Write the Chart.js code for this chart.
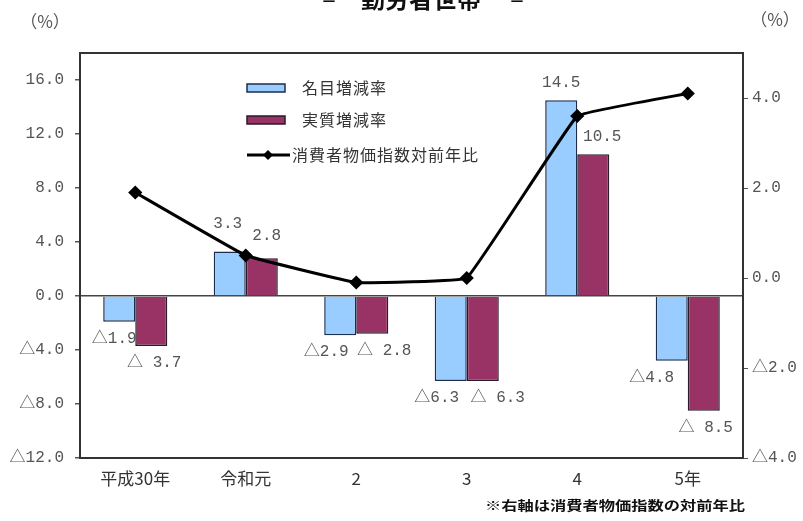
<!DOCTYPE html>
<html><head><meta charset="utf-8">
<script src="https://cdn.jsdelivr.net/npm/chart.js@4/dist/chart.umd.min.js"></script>
<style>html,body{margin:0;padding:0;background:#fff;}#wrap{width:803px;height:521px;position:relative}</style>
</head><body><div id="wrap"><canvas id="c" width="803" height="521"></canvas></div>
<script>
// ---- data ----
const categories = ['平成30年', '令和元', '2', '3', '4', '5年'];
const nominalRate = [-1.9, 3.3, -2.9, -6.3, 14.5, -4.8];
const realRate = [-3.7, 2.8, -2.8, -6.3, 10.5, -8.5];
const cpiRate = [1.9, 0.5, -0.1, 0.0, 3.6, 4.1];
const leftTicks = [-12, -8, -4, 0, 4, 8, 12, 16];
const rightTicks = [-4, -2, 0, 2, 4];
const seriesNames = ['名目増減率', '実質増減率', '消費者物価指数対前年比'];
const titleText = '勤労者世帯';
const noteText = '※右軸は消費者物価指数の対前年比';
const unitText = '（%）';

const fmtVal = (v, spaced) => v < 0 ? '△' + (spaced ? ' ' : '') + Math.abs(v).toFixed(1) : v.toFixed(1);
const MONO = '"Liberation Mono","Noto Sans CJK JP"';
const CJK = '"Noto Sans CJK JP"';

const labelNudge = {
  0: {dx: [-5, -2, -14, -14, 0, -20], dy: [0, -11, 0, 0, 0, 0]},
  1: {dx: [3, 5, 12, 15, 9, 2], dy: [0, -5, 0, 0, 0, 0]}
};

const decor = {
  id: 'decor',
  beforeDatasetsDraw(chart) {
    const {ctx, chartArea: a} = chart;
    ctx.save();
    ctx.strokeStyle = '#333';
    ctx.lineWidth = 2;
    ctx.strokeRect(a.left, a.top, a.right - a.left, a.bottom - a.top);
    ctx.restore();
  },
  afterDatasetsDraw(chart) {
    const ctx = chart.ctx;
    ctx.save();
    ctx.font = '16px ' + MONO;
    ctx.fillStyle = '#555';
    ctx.textAlign = 'center';
    ctx.textBaseline = 'middle';
    [0, 1].forEach(di => {
      const meta = chart.getDatasetMeta(di);
      const vals = chart.data.datasets[di].data;
      const n = labelNudge[di];
      meta.data.forEach((bar, i) => {
        const v = vals[i];
        const y = (v >= 0 ? bar.y - 17 : bar.y + 17) + n.dy[i];
        ctx.fillText(fmtVal(v, di === 1), bar.x + n.dx[i], y);
      });
    });
    ctx.restore();
  },
  afterDraw(chart) {
    const ctx = chart.ctx;
    const ds = chart.data.datasets;
    ctx.save();
    // legend
    ctx.textBaseline = 'middle';
    ctx.textAlign = 'left';
    ctx.font = '16px ' + CJK;
    ctx.fillStyle = '#333';
    try { ctx.letterSpacing = '1px'; } catch (e) {}
    const rows = [88, 120, 155];
    [0, 1].forEach(i => {
      ctx.fillStyle = ds[i].backgroundColor;
      ctx.strokeStyle = ds[i].borderColor;
      ctx.lineWidth = 1.5;
      ctx.fillRect(247, rows[i] - 4, 38, 8);
      ctx.strokeRect(247, rows[i] - 4, 38, 8);
      ctx.fillStyle = '#333';
      ctx.fillText(ds[i].label, 302, rows[i]);
    });
    ctx.strokeStyle = '#000';
    ctx.lineWidth = 3;
    ctx.beginPath(); ctx.moveTo(247, rows[2]); ctx.lineTo(290, rows[2]); ctx.stroke();
    ctx.fillStyle = '#000';
    ctx.beginPath();
    ctx.moveTo(268, rows[2] - 5); ctx.lineTo(273, rows[2]); ctx.lineTo(268, rows[2] + 5); ctx.lineTo(263, rows[2]); ctx.closePath(); ctx.fill();
    ctx.fillStyle = '#333';
    ctx.fillText(ds[2].label, 292, rows[2]);
    try { ctx.letterSpacing = '0px'; } catch (e) {}
    // units
    ctx.font = '17px ' + CJK;
    ctx.fillStyle = '#555';
    ctx.textAlign = 'center';
    ctx.fillText(unitText, 45, 22);
    ctx.fillText(unitText, 775, 20);
    // title (cut at top)
    ctx.font = 'bold 24px ' + CJK;
    ctx.fillStyle = '#111';
    ctx.fillText(titleText, 421, -1);
    ctx.font = 'bold 16px ' + CJK;
    ctx.fillText('－', 329, 1);
    ctx.fillText('－', 517, 1);
    // footnote
    ctx.font = 'bold 13px ' + CJK;
    const w = ctx.measureText(noteText).width;
    ctx.translate(615, 505);
    ctx.scale(260 / w, 1);
    ctx.fillStyle = '#111';
    ctx.fillText(noteText, 0, 0);
    ctx.restore();
  }
};

new Chart(document.getElementById('c'), {
  data: {
    labels: categories,
    datasets: [
      {type: 'bar', label: seriesNames[0], data: nominalRate, yAxisID: 'y',
        backgroundColor: '#99CCFF', borderColor: '#1F2D4D', borderWidth: 1.5,
        categoryPercentage: 0.58, barPercentage: 1.0, order: 2},
      {type: 'bar', label: seriesNames[1], data: realRate, yAxisID: 'y',
        backgroundColor: '#993366', borderColor: '#2A1A2A', borderWidth: 1.5,
        categoryPercentage: 0.58, barPercentage: 1.0, order: 2},
      {type: 'line', label: seriesNames[2], data: cpiRate, yAxisID: 'y2',
        borderColor: '#000', borderWidth: 3, tension: 0.06,
        pointStyle: 'rectRot', pointRadius: 5, pointBackgroundColor: '#000', pointBorderColor: '#000',
        order: 0}
    ]
  },
  options: {
    responsive: false,
    devicePixelRatio: 1,
    animation: false,
    layout: {padding: {top: 53, left: 0, right: 0, bottom: 0}},
    plugins: {legend: {display: false}, tooltip: {enabled: false}, title: {display: false}},
    scales: {
      x: {
        offset: true,
        grid: {display: false, drawTicks: false},
        border: {display: false},
        ticks: {font: {size: 17, family: CJK}, color: '#333', padding: 10, maxRotation: 0},
        afterFit(s) { s.height = 63; }
      },
      y: {
        position: 'left', min: -12, max: 18,
        ticks: {stepSize: 4, font: {size: 16, family: MONO}, color: '#555', padding: 11,
          callback: v => fmtVal(v, false)},
        afterBuildTicks(s) { s.ticks = leftTicks.map(v => ({value: v})); },
        grid: {drawOnChartArea: true, tickLength: 5, tickColor: '#555', lineWidth: 1.5,
          color: c => (c.tick && c.tick.value === 0) ? '#444' : 'rgba(0,0,0,0)'},
        border: {display: false},
        afterFit(s) { s.width = 80; }
      },
      y2: {
        position: 'right', min: -4, max: 5,
        ticks: {stepSize: 2, font: {size: 16, family: MONO}, color: '#555', padding: 4,
          callback: v => fmtVal(v, false)},
        afterBuildTicks(s) { s.ticks = rightTicks.map(v => ({value: v})); },
        grid: {drawOnChartArea: false, tickLength: 5, tickColor: '#555'},
        border: {display: false},
        afterFit(s) { s.width = 60; }
      }
    }
  },
  plugins: [decor]
});
</script></body></html>
